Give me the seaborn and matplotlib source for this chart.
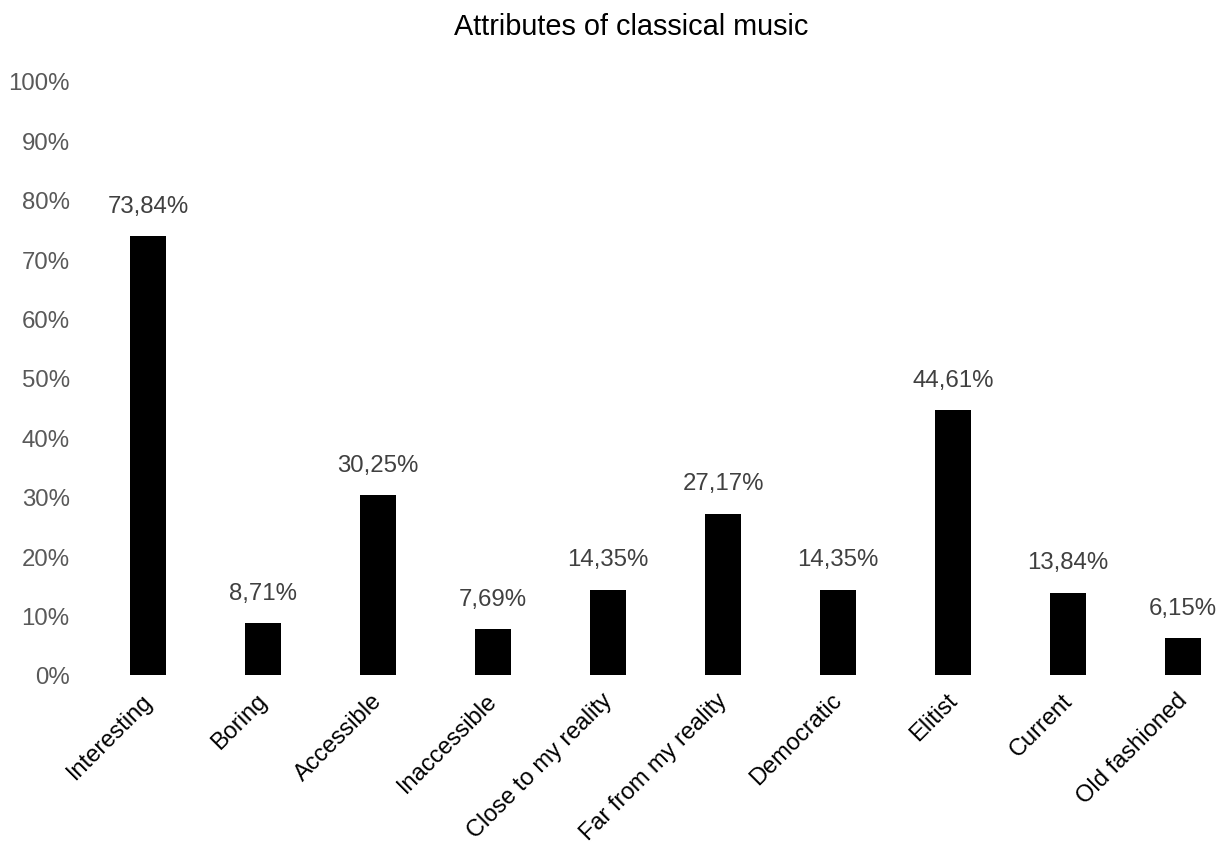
import matplotlib
matplotlib.use("Agg")
import matplotlib.pyplot as plt
import matplotlib.transforms as mtransforms
import seaborn as sns
import pandas as pd

categories = ["Interesting", "Boring", "Accessible", "Inaccessible", "Close to my reality",
              "Far from my reality", "Democratic", "Elitist", "Current", "Old fashioned"]
values = [73.84, 8.71, 30.25, 7.69, 14.35, 27.17, 14.35, 44.61, 13.84, 6.15]
yticks = [0, 10, 20, 30, 40, 50, 60, 70, 80, 90, 100]
title = "Attributes of classical music"

sns.set_style("white")
plt.rcParams['font.family'] = ['Liberation Sans', 'DejaVu Sans']

W, H = 1218, 845
fig = plt.figure(figsize=(W / 100, H / 100), dpi=100)
left = 90.5 / W
bottom = (H - 676) / H
top = (H - 82) / H
ax = fig.add_axes([left, bottom, 1 - left, top - bottom])

df = pd.DataFrame({"cat": categories, "val": values})
sns.barplot(data=df, x="cat", y="val", color="black", width=0.313, ax=ax,
            saturation=1, edgecolor="none")

ax.set_xlim(-0.5, -0.5 + (W - 90.5) / 115)
ax.set_ylim(0, 100)
ax.set_yticks(yticks)
ax.set_yticklabels([f"{t}%" for t in yticks], fontsize=17.3, color="#595959")
ax.tick_params(axis="y", length=0, pad=15)
ax.tick_params(axis="x", length=0, pad=10)
ax.set_xticks(range(len(categories)))
ax.set_xticklabels(categories, rotation=45, ha="right", rotation_mode="anchor",
                   fontsize=17.0, color="black")
offset = mtransforms.ScaledTranslation(-0.07, 0, fig.dpi_scale_trans)
for lab in ax.get_xticklabels():
    lab.set_transform(lab.get_transform() + offset)
ax.set_xlabel("")
ax.set_ylabel("")
for s in ax.spines.values():
    s.set_visible(False)

labels = [f"{v:.2f}".replace(".", ",") + "%" for v in values]
ax.bar_label(ax.containers[0], labels=labels, padding=14, fontsize=17.3, color="#404040")

fig.text(631 / W, (H - 35) / H, title, ha="center", va="baseline", fontsize=20.8, color="black")

fig.savefig("out.png", dpi=100)
